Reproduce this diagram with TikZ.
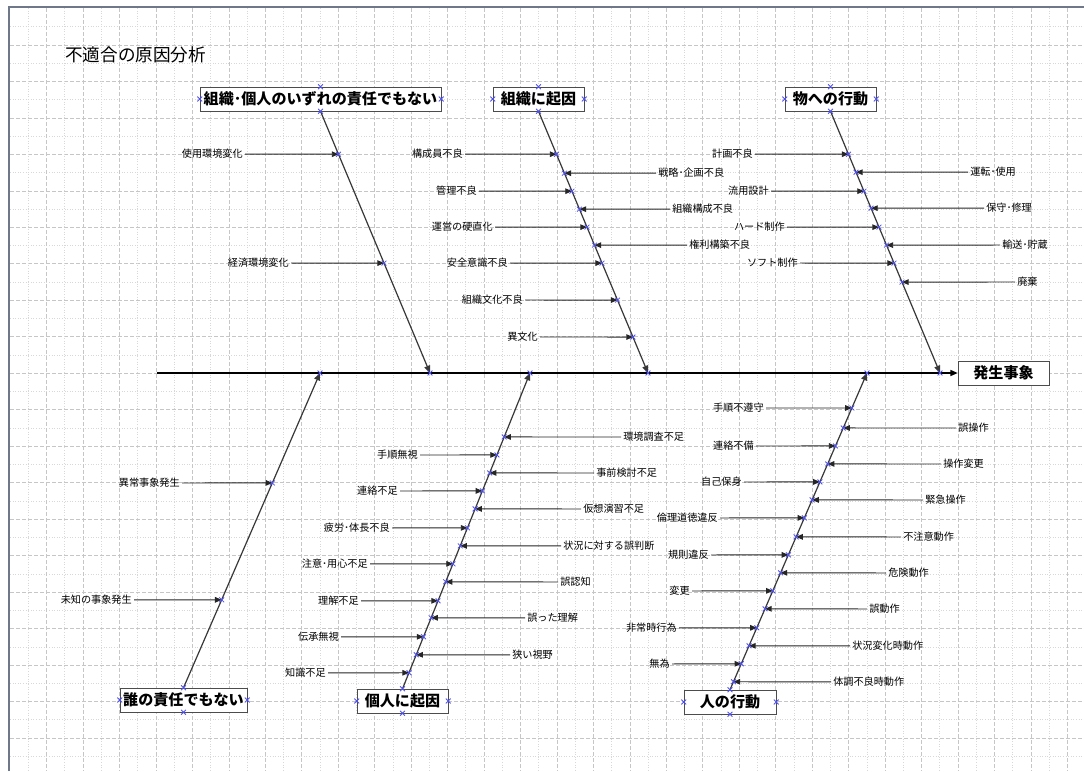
\documentclass[tikz,border=0pt]{standalone}
\usepackage{fontspec}
\newfontfamily\jp{Noto Sans CJK JP}
\usetikzlibrary{arrows.meta,calc}
\definecolor{mkblue}{HTML}{5050F0}
\definecolor{gridA}{HTML}{C6C6C6}
\definecolor{gridB}{HTML}{D8D8D8}
\definecolor{frame}{HTML}{6E7888}
\definecolor{bone}{HTML}{383838}

\begin{document}
\begin{tikzpicture}[x=0.75pt, y=-0.75pt,
    hd/.style={draw=black!70, fill=white, text=black, font=\jp\fontsize{11.3pt}{13pt}\selectfont\bfseries,
               minimum height=18pt, inner sep=1pt},
    ttl/.style={font=\jp\fontsize{13.2pt}{15pt}\selectfont, inner sep=0pt},
    lbl/.style={font=\jp\fontsize{7.6pt}{9pt}\selectfont, text=black, inner sep=1.5pt},
    arr/.style={-{Triangle[length=5pt,width=4.2pt]}, black!85, line width=0.7pt},
    bn/.style={-{Triangle[length=5.5pt,width=4.5pt]}, bone, line width=0.9pt},
    spn/.style={-{Triangle[length=5.5pt,width=4.5pt]}, black, line width=1.1pt},
    gdash/.style={gridA, line width=0.5pt, dash pattern=on 3pt off 1.5pt},
    gdot/.style={gridB, line width=0.5pt, dash pattern=on 0.75pt off 1.2pt},
    pics/xmk/.style={code={\draw[mkblue, line width=0.6pt] (-2.4,-2.4) -- (2.4,2.4) (-2.4,2.4) -- (2.4,-2.4);}}]
  \useasboundingbox (0,0) rectangle (1084,771);
  \fill[white] (0,0) rectangle (1084,771);
  \foreach \j in {0,...,40}{
    \pgfmathsetmacro\gy{26.7+\j*18.24}
    \ifodd\j \draw[gdash] (10,\gy) -- (1084,\gy); \else \draw[gdot] (10,\gy) -- (1084,\gy); \fi
  }
  \foreach \k in {0,...,57}{
    \pgfmathsetmacro\gx{28.3+\k*18.23}
    \ifodd\k \draw[gdash] (\gx,8) -- (\gx,771); \else \draw[gdot] (\gx,8) -- (\gx,771); \fi
  }
  \draw[frame, line width=1.9pt] (9,771) -- (9,7) -- (1084,7);

  \node[ttl, anchor=west] (title) at (65,55) {不適合の原因分析};

  \node[hd, minimum width=180.75pt] (k1) at (320.5,99) {組織･個人のいずれの責任でもない};
  \node[hd, minimum width=68.25pt] (k2) at (538.5,99) {組織に起因};
  \node[hd, minimum width=68.25pt] (k3) at (830.5,99) {物への行動};
  \node[hd, minimum width=95.25pt] (k4) at (183.5,700) {誰の責任でもない};
  \node[hd, minimum width=68.25pt] (k5) at (402.5,701) {個人に起因};
  \node[hd, minimum width=69pt] (k6) at (730,702) {人の行動};
  \node[hd, minimum width=68.25pt] (ev) at (1003.5,373) {発生事象};

  \coordinate (sp) at (157,373);
  \coordinate (s1) at (430,373);
  \coordinate (s2) at (648,373);
  \coordinate (s3) at (940,373);
  \coordinate (s4) at (320,373);
  \coordinate (s5) at (530,373);
  \coordinate (s6) at (867,373);

  \draw[spn] (sp) -- (ev);
  \draw[bn] (k1.south) -- (s1);
  \draw[bn] (k2.south) -- (s2);
  \draw[bn] (k3.south) -- (s3);
  \draw[bn] (k4.north) -- (s4);
  \draw[bn] (k5.north) -- (s5);
  \draw[bn] (k6.north) -- (s6);

  % 組織・個人のいずれの責任でもない
  \foreach \y/\x/\txt [count=\i] in {154/243/使用環境変化, 263/289/経済環境変化}{
    \node[lbl, anchor=east] (a\i) at (\x+2,\y) {\txt};
    \coordinate (pa\i) at ($(k1.south)!{(\y-111)/262}!(s1)$);
    \draw[arr] (a\i) -- (pa\i);
    \pic at (pa\i) {xmk};
  }

  % 組織に起因
  \foreach \y/\x/\txt [count=\i] in {154/463/構成員不良, 191/477/管理不良, 227/493/運営の硬直化,
      263/508/安全意識不良, 300/523/組織文化不良, 337/538/異文化}{
    \node[lbl, anchor=east] (b\i) at (\x+2,\y) {\txt};
    \coordinate (pb\i) at ($(k2.south)!{(\y-111)/262}!(s2)$);
    \draw[arr] (b\i) -- (pb\i);
    \pic at (pb\i) {xmk};
  }
  \foreach \y/\x/\txt [count=\i] in {173/658/戦略･企画不良, 209/672/組織構成不良, 245/689/権利構築不良}{
    \node[lbl, anchor=west] (br\i) at (\x-2,\y) {\txt};
    \coordinate (qb\i) at ($(k2.south)!{(\y-111)/262}!(s2)$);
    \draw[arr] (br\i) -- (qb\i);
    \pic at (qb\i) {xmk};
  }

  % 物への行動
  \foreach \y/\x/\txt [count=\i] in {154/753/計画不良, 191/769/流用設計, 227/785/ハード制作, 263/798/ソフト制作}{
    \node[lbl, anchor=east] (c\i) at (\x+2,\y) {\txt};
    \coordinate (pc\i) at ($(k3.south)!{(\y-111)/262}!(s3)$);
    \draw[arr] (c\i) -- (pc\i);
    \pic at (pc\i) {xmk};
  }
  \foreach \y/\x/\txt [count=\i] in {172/970/運転･使用, 208/986/保守･修理, 245/1002/輸送･貯蔵, 282/1017/廃棄}{
    \node[lbl, anchor=west] (cr\i) at (\x-2,\y) {\txt};
    \coordinate (qc\i) at ($(k3.south)!{(\y-111)/262}!(s3)$);
    \draw[arr] (cr\i) -- (qc\i);
    \pic at (qc\i) {xmk};
  }

  % 誰の責任でもない
  \foreach \y/\x/\txt [count=\i] in {483/180/異常事象発生, 600/132/未知の事象発生}{
    \node[lbl, anchor=east] (d\i) at (\x+2,\y) {\txt};
    \coordinate (pd\i) at ($(k4.north)!{(688-\y)/315}!(s4)$);
    \draw[arr] (d\i) -- (pd\i);
    \pic at (pd\i) {xmk};
  }

  % 個人に起因
  \foreach \y/\x/\txt [count=\i] in {455/418/手順無視, 491/398/連絡不足, 528/390/疲労･体長不良,
      564/368/注意･用心不足, 601/359/理解不足, 637/339/伝承無視, 673/326/知識不足}{
    \node[lbl, anchor=east] (e\i) at (\x+2,\y) {\txt};
    \coordinate (pe\i) at ($(k5.north)!{(689-\y)/316}!(s5)$);
    \draw[arr] (e\i) -- (pe\i);
    \pic at (pe\i) {xmk};
  }
  \foreach \y/\x/\txt [count=\i] in {437/623/環境調査不足, 473/596/事前検討不足, 509/583/仮想演習不足,
      546/563/状況に対する誤判断, 582/560/誤認知, 618/527/誤った理解, 655/512/狭い視野}{
    \node[lbl, anchor=west] (er\i) at (\x-2,\y) {\txt};
    \coordinate (qe\i) at ($(k5.north)!{(689-\y)/316}!(s5)$);
    \draw[arr] (er\i) -- (qe\i);
    \pic at (qe\i) {xmk};
  }

  % 人の行動
  \foreach \y/\x/\txt [count=\i] in {408/764/手順不遵守, 446/754/連絡不備, 482/742/自己保身, 518/718/倫理道徳違反,
      555/709/規則違反, 591/690/変更, 628/677/非常時行為, 664/670/無為}{
    \node[lbl, anchor=east] (f\i) at (\x+2,\y) {\txt};
    \coordinate (pf\i) at ($(k6.north)!{(690-\y)/317}!(s6)$);
    \draw[arr] (f\i) -- (pf\i);
    \pic at (pf\i) {xmk};
  }
  \foreach \y/\x/\txt [count=\i] in {428/958/誤操作, 464/943/操作変更, 500/925/緊急操作, 537/903/不注意動作,
      573/888/危険動作, 609/869/誤動作, 646/852/状況変化時動作, 682/833/体調不良時動作}{
    \node[lbl, anchor=west] (fr\i) at (\x-2,\y) {\txt};
    \coordinate (qf\i) at ($(k6.north)!{(690-\y)/317}!(s6)$);
    \draw[arr] (fr\i) -- (qf\i);
    \pic at (qf\i) {xmk};
  }

  \foreach \n in {k1,k2,k3,k4,k5,k6}
    \foreach \a in {north,south,east,west}
      \pic at (\n.\a) {xmk};
  \foreach \n in {s1,s2,s3,s4,s5,s6}
    \pic at (\n) {xmk};
\end{tikzpicture}
\end{document}
